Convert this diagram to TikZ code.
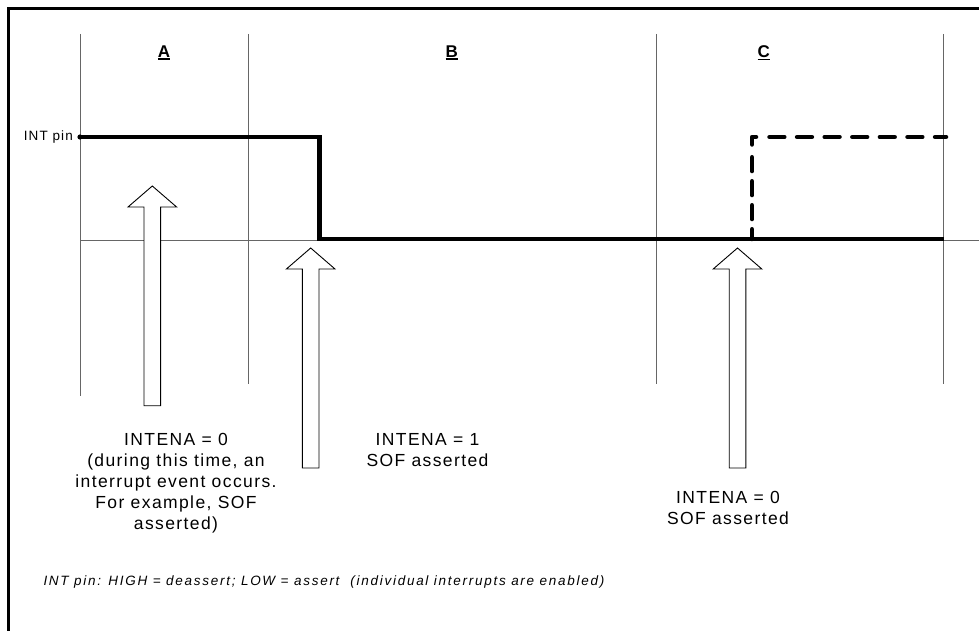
\documentclass[tikz,border=0pt]{standalone}
\usepackage{fontspec}
\setmainfont{Liberation Sans}
\newfontfamily\lsMain[LetterSpace=8]{Liberation Sans}
\newfontfamily\lsPin[LetterSpace=8]{Liberation Sans}
\newfontfamily\lsNote[LetterSpace=12.8]{Liberation Sans}
\newcommand\myul[1]{\leavevmode\vtop{\hbox{#1}\kern1.2pt\hrule height 1.4pt}}
\tikzset{
  gridline/.style={draw=black!60, line width=0.8},
  frameline/.style={draw=black, line width=3},
  sig/.style={draw=black, line width=4.5, line join=miter},
  sigdash/.style={draw=black, line width=4.5, line cap=round, line join=round},
  blockarrow/.style={draw=black, line width=0.9, fill=white, line join=miter},
  lbl/.style={inner sep=0, align=center, font=\lsMain\fontsize{17.5}{20.8}\selectfont},
  seclbl/.style={inner sep=0, anchor=base, font=\bfseries\fontsize{17}{20}\selectfont},
  pinlbl/.style={inner sep=0, anchor=base east, font=\lsPin\fontsize{13.5}{15}\selectfont},
  notelbl/.style={inner sep=0, anchor=base west, font=\lsNote\itshape\fontsize{13.5}{15}\selectfont},
}
\begin{document}
\begin{tikzpicture}[x=1pt, y=-1pt]
\useasboundingbox (0,0) rectangle (979,631);
\clip (0,0) rectangle (979,631);
% frame
\draw[frameline] (8.5,640) -- (8.5,8.5) -- (990,8.5);
% grid
\draw[gridline] (80,34) -- (80,396);
\draw[gridline] (248,34) -- (248,384);
\draw[gridline] (656,34) -- (656,384);
\draw[gridline] (943.5,34) -- (943.5,384);
\draw[gridline] (80,240) -- (979,240);
% signal
\coordinate (s0) at (80,137);
\coordinate (s1) at (319.5,137);
\coordinate (s2) at (319.5,239);
\coordinate (s3) at (943.5,239);
\draw[sig] (s0) -- (s1) -- (s2) -- (s3);
\fill (s0) circle (2.6);
% dashed alternative signal
\coordinate (d0) at (752,239);
\coordinate (dv) at (752,157.25);
\coordinate (dc0) at (752,144.5);
\coordinate (d1) at (752,137);
\coordinate (dc1) at (756,137);
\coordinate (dh) at (769.5,137);
\coordinate (d2) at (946,137);
\draw[sigdash] (dc0) -- (d1) -- (dc1);
\draw[sigdash, dash pattern=on 13.8 off 10.2] (dv) -- (d0);
\draw[sigdash, dash pattern=on 14.8 off 12.8] (dh) -- (d2);
% block arrows
\foreach \cx/\ty/\by in {152.3/186/405.7, 310.7/248/468, 737.5/248/468}{
  \draw[blockarrow] ({\cx-8.3},\by) -- ({\cx-8.3},{\ty+21}) -- ({\cx-24.3},{\ty+21})
    -- (\cx,\ty) -- ({\cx+24.3},{\ty+21}) -- ({\cx+8.3},{\ty+21}) -- ({\cx+8.3},\by) -- cycle;
}
% labels
\node[seclbl] (labA) at (164,57.3) {\myul{A}};
\node[seclbl] (labB) at (451.7,57.3) {\myul{B}};
\node[seclbl] (labC) at (763.7,57.3) {\myul{C}};
\node[pinlbl] (pin) at (73,140.7) {INT pin};
\node[lbl, anchor=north] (txtA) at (176,433.5) {INTENA = 0\\(during this time, an\\interrupt event occurs.\\For example, SOF\\asserted)};
\node[lbl, anchor=north] (txtB) at (427.5,433.5) {INTENA = 1\\SOF asserted};
\node[lbl, anchor=north] (txtC) at (728,490.8) {INTENA = 0\\SOF asserted};
\node[notelbl] (note) at (43.3,585.7) {INT pin: HIGH = deassert; LOW = assert\ \ (individual interrupts are enabled)};
\end{tikzpicture}
\end{document}
